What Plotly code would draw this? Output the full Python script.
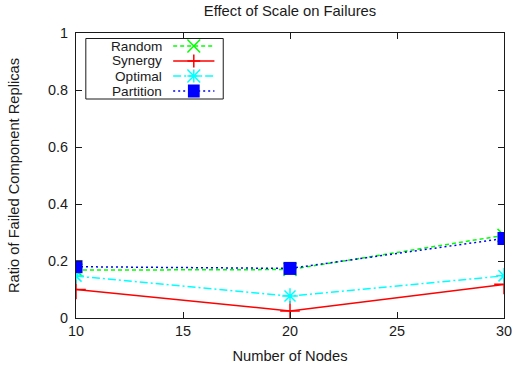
import plotly.graph_objects as go

nodes = [10, 20, 30]
random_vals = [0.168, 0.170, 0.290]
synergy_vals = [0.100, 0.025, 0.118]
optimal_vals = [0.147, 0.077, 0.148]
partition_vals = [0.180, 0.174, 0.279]

x_ticks = [10, 15, 20, 25, 30]
y_ticks = [0, 0.2, 0.4, 0.6, 0.8, 1]
y_tick_text = ["0", "0.2", "0.4", "0.6", "0.8", "1"]

FONT = "Liberation Sans, Arial, Helvetica, sans-serif"
TXT = "#1a1a1a"

W, H = 522, 373
ML, MR, MT, MB = 76, 10, 33, 55
PW, PH = W - ML - MR, H - MT - MB

series = [
    dict(name="Random", y=random_vals, color="#00ff00", dash="4px,3px", symbol="x-thin-open", size=13, key="x"),
    dict(name="Synergy", y=synergy_vals, color="#ff0000", dash="solid", symbol="cross-thin-open", size=14, key="+"),
    dict(name="Optimal", y=optimal_vals, color="#00ffff", dash="8px,3px,2px,3px", symbol="asterisk-open", size=13, key="*"),
    dict(name="Partition", y=partition_vals, color="#0000ff", dash="2px,3px", symbol="square", size=13, key="sq"),
]

fig = go.Figure()
for s in series:
    if s["key"] == "sq":
        marker = dict(symbol=s["symbol"], size=s["size"], color=s["color"])
    else:
        marker = dict(symbol=s["symbol"], size=s["size"], line=dict(color=s["color"], width=1.5))
    fig.add_trace(go.Scatter(
        x=nodes, y=s["y"], name=s["name"], mode="lines+markers",
        line=dict(color=s["color"], width=1.5, dash=s["dash"]),
        marker=marker, showlegend=False,
    ))

# gnuplot-style key: text right-aligned, sample line + symbol to its right
def px(xp):
    return (xp - ML) / PW

def py(yp):
    return (H - MB - yp) / PH

shapes = []
annotations = []
box_l, box_r, box_t, box_b = 86, 226, 38.5, 99
shapes.append(dict(type="rect", xref="paper", yref="paper",
                   x0=px(box_l), x1=px(box_r), y0=py(box_b), y1=py(box_t),
                   line=dict(color=TXT, width=1), fillcolor="white", layer="above"))
row_y = [46, 61, 76, 91]
text_r, ln_l, ln_r, mk_c, half = 165, 175, 217, 196, 6.5
for s, yy in zip(series, row_y):
    annotations.append(dict(text=s["name"], xref="paper", yref="paper", x=px(text_r), y=py(yy),
                            xanchor="right", yanchor="middle", showarrow=False, borderpad=0,
                            font=dict(family=FONT, size=13.6, color=TXT)))
    shapes.append(dict(type="line", xref="paper", yref="paper", x0=px(ln_l), x1=px(ln_r),
                       y0=py(yy), y1=py(yy), layer="above",
                       line=dict(color=s["color"], width=1.5, dash=s["dash"])))
    segs = []
    if s["key"] in ("x", "*"):
        segs += [(-half, -half, half, half), (-half, half, half, -half)]
    if s["key"] in ("+", "*"):
        segs += [(0, -half, 0, half), (-half, 0, half, 0)]
    for dx0, dy0, dx1, dy1 in segs:
        shapes.append(dict(type="line", xref="paper", yref="paper",
                           x0=px(mk_c + dx0), x1=px(mk_c + dx1), y0=py(yy + dy0), y1=py(yy + dy1),
                           layer="above", line=dict(color=s["color"], width=1.5)))
    if s["key"] == "sq":
        shapes.append(dict(type="rect", xref="paper", yref="paper",
                           x0=px(mk_c - 6), x1=px(mk_c + 6), y0=py(yy + 6.5), y1=py(yy - 6.5),
                           layer="above", line=dict(width=0), fillcolor=s["color"]))

fig.update_layout(
    width=W, height=H,
    margin=dict(l=ML, r=MR, t=MT, b=MB),
    paper_bgcolor="white", plot_bgcolor="white",
    font=dict(family=FONT, size=14.5, color=TXT),
    title=dict(text="Effect of Scale on Failures", x=0.5, xref="paper", xanchor="center",
               y=1 - 10.5 / H, yanchor="middle", yref="container",
               font=dict(family=FONT, size=14.8, color=TXT)),
    showlegend=False,
    shapes=shapes,
    annotations=annotations,
)
fig.update_xaxes(
    range=[10, 30], tickvals=x_ticks, ticks="inside", ticklen=6, tickcolor=TXT,
    tickfont=dict(family=FONT, size=14.4, color=TXT),
    showline=True, linecolor=TXT, linewidth=1, mirror="ticks", showgrid=False,
    zeroline=False,
    title=dict(text="Number of Nodes", standoff=12, font=dict(family=FONT, size=14.7, color=TXT)),
)
fig.update_yaxes(
    range=[0, 1], tickvals=y_ticks, ticktext=y_tick_text, ticks="inside", ticklen=6,
    tickcolor=TXT, tickfont=dict(family=FONT, size=14.4, color=TXT),
    showline=True, linecolor=TXT, linewidth=1, mirror="ticks",
    showgrid=False, zeroline=False, ticklabelstandoff=4,
    title=dict(text="Ratio of Failed Component Replicas", standoff=24,
               font=dict(family=FONT, size=14.7, color=TXT)),
)

fig.write_html("out.html")
